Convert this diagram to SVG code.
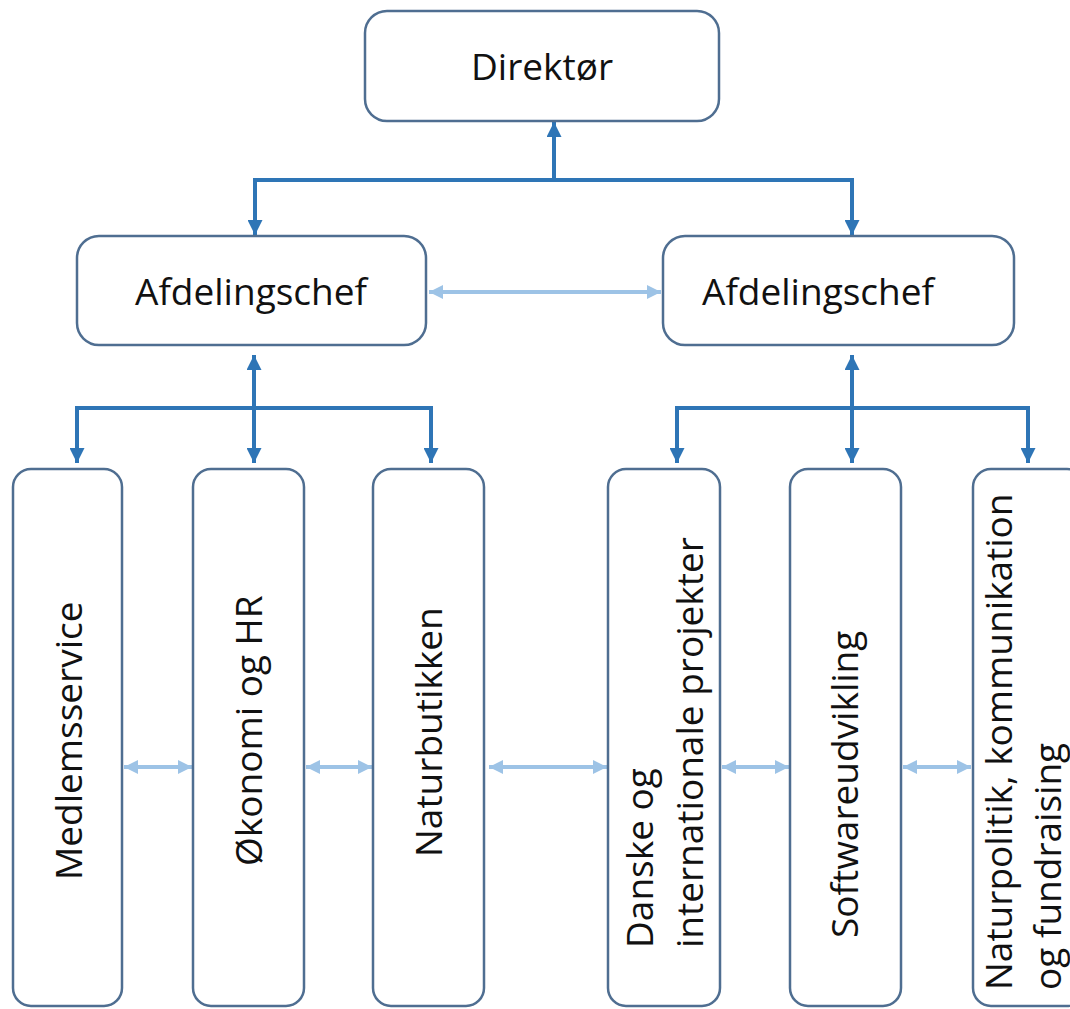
<svg xmlns="http://www.w3.org/2000/svg" width="1070" height="1009" viewBox="0 0 1070 1009">
<style>
.box{fill:#ffffff;stroke:#4f6e91;stroke-width:2.5}
.t{font-family:"Open Sans","Liberation Sans",sans-serif;font-size:37px;fill:#111111}
.dark{stroke:#2e75b6;stroke-width:4;fill:none}
.light{stroke:#9dc3e6;stroke-width:4;fill:none}
</style>
<defs>
<marker id="ad" viewBox="0 0 10 10" refX="10" refY="5" markerUnits="userSpaceOnUse" markerWidth="15" markerHeight="15" orient="auto-start-reverse">
<path d="M0,0 L10,5 L0,10 z" fill="#2e75b6"/>
</marker>
<marker id="al" viewBox="0 0 10 10" refX="10" refY="5" markerUnits="userSpaceOnUse" markerWidth="14" markerHeight="14" orient="auto-start-reverse">
<path d="M0,0 L10,5 L0,10 z" fill="#9dc3e6"/>
</marker>
</defs>
<rect width="1070" height="1009" fill="#ffffff"/>

<g id="connectors">
<line class="dark" x1="554" y1="180" x2="554" y2="122" marker-end="url(#ad)"/>
<polyline class="dark" points="255,180 852,180"/>
<line class="dark" x1="255" y1="178" x2="255" y2="235" marker-end="url(#ad)"/>
<line class="dark" x1="852" y1="178" x2="852" y2="235" marker-end="url(#ad)"/>
<line class="light" x1="429" y1="292" x2="661" y2="292" marker-start="url(#al)" marker-end="url(#al)"/>

<line class="dark" x1="254" y1="355" x2="254" y2="463" marker-start="url(#ad)" marker-end="url(#ad)"/>
<polyline class="dark" points="77,408 431,408"/>
<line class="dark" x1="77" y1="406" x2="77" y2="463" marker-end="url(#ad)"/>
<line class="dark" x1="431" y1="406" x2="431" y2="463" marker-end="url(#ad)"/>

<line class="dark" x1="852" y1="355" x2="852" y2="463" marker-start="url(#ad)" marker-end="url(#ad)"/>
<polyline class="dark" points="677,408 1028,408"/>
<line class="dark" x1="677" y1="406" x2="677" y2="463" marker-end="url(#ad)"/>
<line class="dark" x1="1028" y1="406" x2="1028" y2="463" marker-end="url(#ad)"/>

<line class="light" x1="124" y1="767" x2="192" y2="767" marker-start="url(#al)" marker-end="url(#al)"/>
<line class="light" x1="306" y1="767" x2="372" y2="767" marker-start="url(#al)" marker-end="url(#al)"/>
<line class="light" x1="489" y1="767" x2="607" y2="767" marker-start="url(#al)" marker-end="url(#al)"/>
<line class="light" x1="722" y1="767" x2="789" y2="767" marker-start="url(#al)" marker-end="url(#al)"/>
<line class="light" x1="903" y1="767" x2="971" y2="767" marker-start="url(#al)" marker-end="url(#al)"/>
</g>

<g id="direktor">
<rect class="box" x="365" y="11" width="354" height="110" rx="22"/>
<text class="t" x="542" y="80" text-anchor="middle">Direktør</text>
</g>
<g id="afdelingschef-1">
<rect class="box" x="77" y="236" width="349" height="109" rx="22"/>
<text class="t" x="251" y="305" text-anchor="middle">Afdelingschef</text>
</g>
<g id="afdelingschef-2">
<rect class="box" x="663" y="236" width="351" height="109" rx="22"/>
<text class="t" x="818" y="305" text-anchor="middle">Afdelingschef</text>
</g>

<g id="medlemsservice">
<rect class="box" x="13" y="469" width="109" height="537" rx="18"/>
<text class="t" transform="translate(82,880) rotate(-90)">Medlemsservice</text>
</g>
<g id="okonomi">
<rect class="box" x="193" y="469" width="111" height="537" rx="18"/>
<text class="t" transform="translate(262,866) rotate(-90)">Økonomi og HR</text>
</g>
<g id="naturbutikken">
<rect class="box" x="373" y="469" width="111" height="537" rx="18"/>
<text class="t" transform="translate(442,857) rotate(-90)">Naturbutikken</text>
</g>
<g id="danske">
<rect class="box" x="608" y="469" width="112" height="537" rx="18"/>
<text class="t" transform="translate(653,948) rotate(-90)">Danske og</text>
<text class="t" transform="translate(703,948) rotate(-90)">internationale projekter</text>
</g>
<g id="softwareudvikling">
<rect class="box" x="790" y="469" width="111" height="537" rx="18"/>
<text class="t" transform="translate(858,938) rotate(-90)">Softwareudvikling</text>
</g>
<g id="naturpolitik">
<rect class="box" x="973" y="469" width="112" height="537" rx="18"/>
<text class="t" transform="translate(1012,990) rotate(-90)">Naturpolitik, kommunikation</text>
<text class="t" transform="translate(1061,990) rotate(-90)">og fundraising</text>
</g>
</svg>
